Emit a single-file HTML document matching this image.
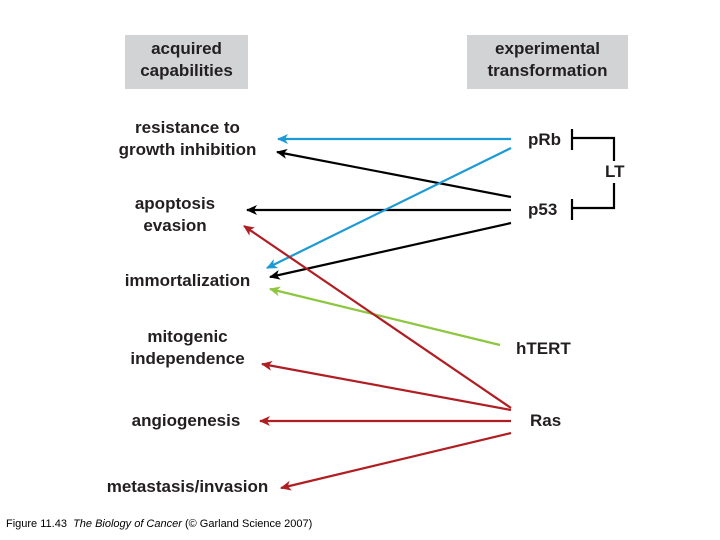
<!DOCTYPE html>
<html><head><style>
body{margin:0;width:720px;height:540px;background:#fff;position:relative;overflow:hidden;font-family:"Liberation Sans",sans-serif}
.b{position:absolute;font-weight:bold;font-size:17px;color:#231f20;text-align:center;line-height:22px}
.box{position:absolute;background:#d1d3d4;font-weight:bold;font-size:17px;color:#231f20;text-align:center;line-height:22px}
</style></head><body>
<div class="box" style="left:125px;top:35px;width:123px;height:54px;padding-top:3px;box-sizing:border-box">acquired<br>capabilities</div>
<div class="box" style="left:467px;top:35px;width:161px;height:54px;padding-top:3px;box-sizing:border-box">experimental<br>transformation</div>
<div class="b" style="left:100px;top:117px;width:175px">resistance to<br>growth inhibition</div>
<div class="b" style="left:110px;top:193px;width:130px">apoptosis<br>evasion</div>
<div class="b" style="left:105px;top:270px;width:165px">immortalization</div>
<div class="b" style="left:110px;top:326px;width:155px">mitogenic<br>independence</div>
<div class="b" style="left:116px;top:410px;width:140px">angiogenesis</div>
<div class="b" style="left:90px;top:476px;width:195px">metastasis/invasion</div>
<div class="b" style="left:528px;top:129px;text-align:left">pRb</div>
<div class="b" style="left:528px;top:199px;text-align:left">p53</div>
<svg width="720" height="540" style="position:absolute;left:0;top:0">
<defs>
<marker id="k" markerWidth="11" markerHeight="10" refX="10" refY="5" orient="auto" markerUnits="userSpaceOnUse" viewBox="0 0 11 10"><path d="M0,0 L11,5 L0,10 L3,5Z" fill="#000"/></marker>
<marker id="bl" markerWidth="11" markerHeight="10" refX="10" refY="5" orient="auto" markerUnits="userSpaceOnUse" viewBox="0 0 11 10"><path d="M0,0 L11,5 L0,10 L3,5Z" fill="#1c9ad6"/></marker>
<marker id="g" markerWidth="11" markerHeight="10" refX="10" refY="5" orient="auto" markerUnits="userSpaceOnUse" viewBox="0 0 11 10"><path d="M0,0 L11,5 L0,10 L3,5Z" fill="#8dc63f"/></marker>
<marker id="r" markerWidth="11" markerHeight="10" refX="10" refY="5" orient="auto" markerUnits="userSpaceOnUse" viewBox="0 0 11 10"><path d="M0,0 L11,5 L0,10 L3,5Z" fill="#b01e23"/></marker>
</defs>
<g stroke-width="2.2" fill="none">
<line x1="511" y1="139" x2="278" y2="139" stroke="#1c9ad6" marker-end="url(#bl)"/>
<line x1="511" y1="197" x2="277" y2="152" stroke="#000" marker-end="url(#k)"/>
<line x1="511" y1="210" x2="247" y2="210" stroke="#000" marker-end="url(#k)"/>
<line x1="511" y1="148" x2="267" y2="268" stroke="#1c9ad6" marker-end="url(#bl)"/>
<line x1="511" y1="223" x2="270" y2="277" stroke="#000" marker-end="url(#k)"/>
<line x1="500" y1="345" x2="270" y2="289" stroke="#8dc63f" marker-end="url(#g)"/>
<line x1="511" y1="408" x2="244" y2="226" stroke="#b01e23" marker-end="url(#r)"/>
<line x1="511" y1="410" x2="262" y2="364" stroke="#b01e23" marker-end="url(#r)"/>
<line x1="511" y1="421" x2="260" y2="421" stroke="#b01e23" marker-end="url(#r)"/>
<line x1="511" y1="433" x2="281" y2="488" stroke="#b01e23" marker-end="url(#r)"/>
<path d="M572,129 V150 M572,138 H614 V208 H572 M572,199 V220" stroke="#000"/>
</g>
</svg>
<div class="b" style="left:604px;top:161px;background:#fff;padding:0 1px">LT</div>
<div class="b" style="left:516px;top:338px;text-align:left">hTERT</div>
<div class="b" style="left:530px;top:410px;text-align:left">Ras</div>
<div style="position:absolute;left:6px;top:518px;font-size:11px;color:#000">Figure 11.43&nbsp; <i>The Biology of Cancer</i> (© Garland Science 2007)</div>
</body></html>
